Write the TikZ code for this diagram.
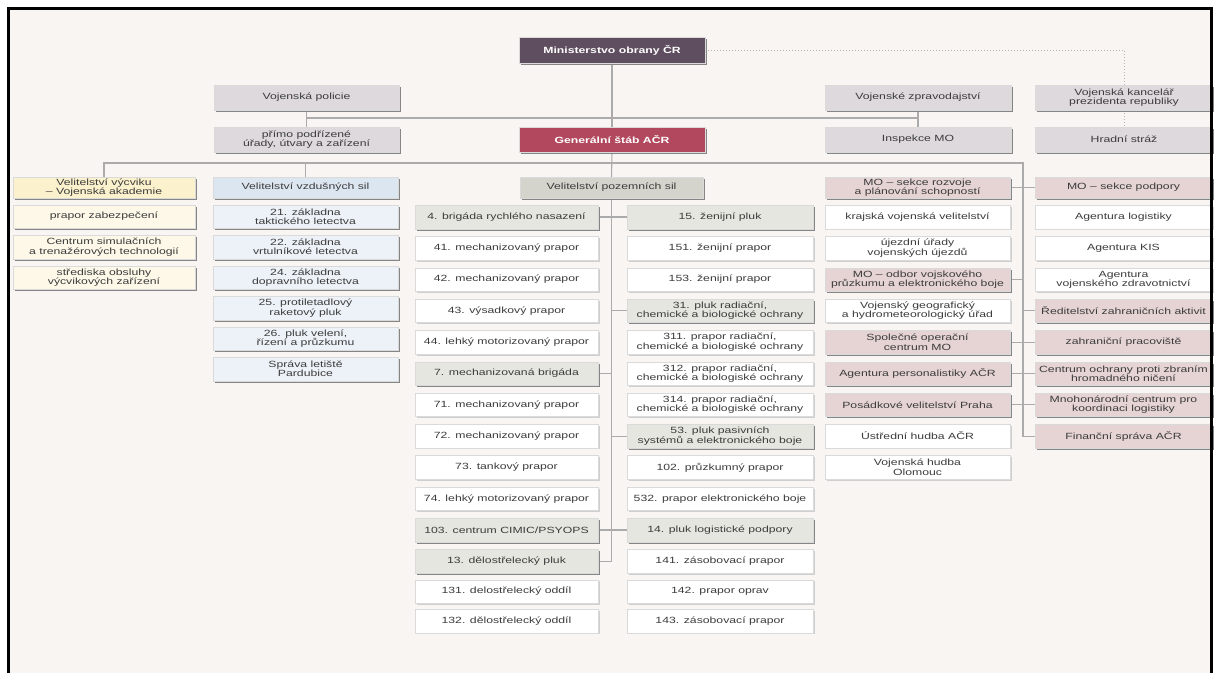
\documentclass[tikz,border=0pt]{standalone}
\usepackage{fontspec}
\setmainfont{Liberation Sans}[FakeStretch=1.36]
\usetikzlibrary{shadows}
\definecolor{bgc}{HTML}{F8F5F2}
\definecolor{txt}{HTML}{3C3C3C}
\definecolor{lnc}{HTML}{ABABAB}
\definecolor{dotc}{HTML}{B4B4B4}
\definecolor{edgec}{HTML}{DADADA}
\definecolor{shd}{HTML}{858585}
\definecolor{lshd}{HTML}{CFCFCF}
\definecolor{topc}{HTML}{DDD9DD}
\definecolor{minc}{HTML}{5F4E60}
\definecolor{gsc}{HTML}{B2485D}
\definecolor{yhc}{HTML}{FBF1CC}
\definecolor{ysc}{HTML}{FDF8E8}
\definecolor{bhc}{HTML}{DCE6F1}
\definecolor{bsc}{HTML}{EDF2F8}
\definecolor{vpc}{HTML}{D4D4CC}
\definecolor{gc}{HTML}{E6E6E0}
\definecolor{pc}{HTML}{E6D4D4}
\pgfdeclarelayer{bglayer}
\pgfdeclarelayer{linelayer}
\pgfsetlayers{bglayer,linelayer,main}
\begin{document}
\begin{tikzpicture}[x=1pt,y=-1pt,
 box/.style={draw=edgec, line width=0.4pt, inner sep=1pt, align=center, text=txt,
   font=\fontsize{9}{9.4}\selectfont, minimum height=23.5pt},
 dk/.style={drop shadow={shadow xshift=1.8pt, shadow yshift=-1.8pt, fill=shd, opacity=1}},
 lt/.style={drop shadow={shadow xshift=1.6pt, shadow yshift=-1.6pt, fill=lshd, opacity=1}},
 topbox/.style={box, dk, fill=topc, minimum height=25pt},
 hdr/.style={minimum height=21pt},
 wbox/.style={box, lt, fill=white},
 gbox/.style={box, dk, fill=gc},
 pbox/.style={box, dk, fill=pc},
 yhbox/.style={box, dk, fill=yhc, hdr},
 ysbox/.style={box, dk, fill=ysc},
 bhbox/.style={box, dk, fill=bhc, hdr},
 bsbox/.style={box, dk, fill=bsc},
 cy/.style={minimum width=182pt},
 cb/.style={minimum width=185pt},
 cl/.style={minimum width=183pt},
 cr/.style={minimum width=186pt},
 ca/.style={minimum width=185pt},
 cz/.style={minimum width=177pt},
 conn/.style={draw=lnc, line width=1.1pt},
 dotl/.style={draw=dotc, line width=1pt, dotted}
]
\useasboundingbox (0,0) rectangle (1219,673);
\begin{pgfonlayer}{bglayer}
\fill[white] (0,0) rectangle (1219,673);
\fill[bgc] (8.5,8) rectangle (1211.5,673);
\end{pgfonlayer}

% top level
\node[box, dk, fill=minc, text=white, font=\fontsize{9}{9.4}\selectfont\bfseries, minimum width=186pt, minimum height=26pt] (min) at (612,50) {Ministerstvo obrany ČR};
\node[topbox, cb] (vp) at (306.5,97.5) {Vojenská policie};
\node[topbox, cr] (vz) at (918,97.5) {Vojenské zpravodajství};
\node[topbox, cz] (vk) at (1124,97.5) {Vojenská kancelář\\prezidenta republiky};
\node[topbox, cb] (pp) at (306.5,139.5) {přímo podřízené\\úřady, útvary a zařízení};
\node[box, dk, fill=gsc, text=white, font=\fontsize{9}{9.4}\selectfont\bfseries, minimum width=186pt, minimum height=25pt] (gs) at (612,139.5) {Generální štáb AČR};
\node[topbox, cr] (ins) at (918,139.5) {Inspekce MO};
\node[topbox, cz] (hs) at (1124,139.5) {Hradní stráž};

% yellow column
\node[yhbox, cy] (yh) at (104,187.5) {Velitelství výcviku\\– Vojenská akademie};
\node[ysbox, cy] (y1) at (104,216.5) {prapor zabezpečení};
\node[ysbox, cy] (y2) at (104,247) {Centrum simulačních\\a trenažérových technologií};
\node[ysbox, cy] (y3) at (104,277.5) {střediska obsluhy\\výcvikových zařízení};

% blue column
\node[bhbox, cb] (bh) at (305.5,187.5) {Velitelství vzdušných sil};
\node[bsbox, cb] (b1) at (305.5,216.5) {21. základna\\taktického letectva};
\node[bsbox, cb] (b2) at (305.5,247) {22. základna\\vrtulníkové letectva};
\node[bsbox, cb] (b3) at (305.5,277.5) {24. základna\\dopravního letectva};
\node[bsbox, cb] (b4) at (305.5,308) {25. protiletadlový\\raketový pluk};
\node[bsbox, cb] (b5) at (305.5,338.5) {26. pluk velení,\\řízení a průzkumu};
\node[bsbox, cb] (b6) at (305.5,369) {Správa letiště\\Pardubice};

% land forces
\node[box, dk, fill=vpc, hdr, cl] (vps) at (611.5,187.5) {Velitelství pozemních sil};
\node[gbox, cl] (L0) at (506.5,217) {4. brigáda rychlého nasazení};
\node[wbox, cl] (L1) at (506.5,248.3) {41. mechanizovaný prapor};
\node[wbox, cl] (L2) at (506.5,279.6) {42. mechanizovaný prapor};
\node[wbox, cl] (L3) at (506.5,310.9) {43. výsadkový prapor};
\node[wbox, cl] (L4) at (506.5,342.2) {44. lehký motorizovaný prapor};
\node[gbox, cl] (L5) at (506.5,373.5) {7. mechanizovaná brigáda};
\node[wbox, cl] (L6) at (506.5,404.8) {71. mechanizovaný prapor};
\node[wbox, cl] (L7) at (506.5,436.1) {72. mechanizovaný prapor};
\node[wbox, cl] (L8) at (506.5,467.4) {73. tankový prapor};
\node[wbox, cl] (L9) at (506.5,498.7) {74. lehký motorizovaný prapor};
\node[gbox, cl] (L10) at (506.5,530) {103. centrum CIMIC/PSYOPS};
\node[gbox, cl] (L11) at (506.5,561.3) {13. dělostřelecký pluk};
\node[wbox, cl] (L12) at (506.5,591.5) {131. delostřelecký oddíl};
\node[wbox, cl] (L13) at (506.5,621) {132. dělostřelecký oddíl};

\node[gbox, cr] (R0) at (720,217) {15. ženijní pluk};
\node[wbox, cr] (R1) at (720,248.3) {151. ženijní prapor};
\node[wbox, cr] (R2) at (720,279.6) {153. ženijní prapor};
\node[gbox, cr] (R3) at (720,310.9) {31. pluk radiační,\\chemické a biologické ochrany};
\node[wbox, cr] (R4) at (720,342.2) {311. prapor radiační,\\chemické a biologiské ochrany};
\node[wbox, cr] (R5) at (720,373.5) {312. prapor radiační,\\chemické a biologiské ochrany};
\node[wbox, cr] (R6) at (720,404.8) {314. prapor radiační,\\chemické a biologiské ochrany};
\node[gbox, cr] (R7) at (720,436.1) {53. pluk pasivních\\systémů a elektronického boje};
\node[wbox, cr] (R8) at (720,467.4) {102. průzkumný prapor};
\node[wbox, cr] (R9) at (720,498.7) {532. prapor elektronického boje};
\node[gbox, cr] (R10) at (720,530) {14. pluk logistické podpory};
\node[wbox, cr] (R11) at (720,561.3) {141. zásobovací prapor};
\node[wbox, cr] (R12) at (720,591.5) {142. prapor oprav};
\node[wbox, cr] (R13) at (720,621) {143. zásobovací prapor};

% ministry sections
\node[pbox, ca, hdr] (ra0) at (917.5,187.5) {MO – sekce rozvoje\\a plánování schopností};
\node[wbox, ca] (ra1) at (917.5,217) {krajská vojenská velitelství};
\node[wbox, ca] (ra2) at (917.5,248.3) {újezdní úřady\\vojenských újezdů};
\node[pbox, ca] (ra3) at (917.5,279.6) {MO – odbor vojskového\\průzkumu a elektronického boje};
\node[wbox, ca] (ra4) at (917.5,310.9) {Vojenský geografický\\a hydrometeorologický úřad};
\node[pbox, ca] (ra5) at (917.5,342.2) {Společné operační\\centrum MO};
\node[pbox, ca] (ra6) at (917.5,373.5) {Agentura personalistiky AČR};
\node[pbox, ca] (ra7) at (917.5,404.8) {Posádkové velitelství Praha};
\node[wbox, ca] (ra8) at (917.5,436.1) {Ústřední hudba AČR};
\node[wbox, ca] (ra9) at (917.5,467.4) {Vojenská hudba\\Olomouc};

\node[pbox, cz, hdr] (rb0) at (1123.5,187.5) {MO – sekce podpory};
\node[wbox, cz] (rb1) at (1123.5,217) {Agentura logistiky};
\node[wbox, cz] (rb2) at (1123.5,248.3) {Agentura KIS};
\node[wbox, cz] (rb3) at (1123.5,279.6) {Agentura\\vojenského zdravotnictví};
\node[pbox, cz] (rb4) at (1123.5,310.9) {Ředitelství zahraničních aktivit};
\node[pbox, cz] (rb5) at (1123.5,342.2) {zahraniční pracoviště};
\node[pbox, cz] (rb6) at (1123.5,373.5) {Centrum ochrany proti zbraním\\hromadného ničení};
\node[pbox, cz] (rb7) at (1123.5,404.8) {Mnohonárodní centrum pro\\koordinaci logistiky};
\node[pbox, cz] (rb8) at (1123.5,436.1) {Finanční správa AČR};

% connectors
\begin{pgfonlayer}{linelayer}
\coordinate (h1) at (612,118);
\coordinate (h2) at (612,163);
\coordinate (rt) at (1023,163);
\draw[conn] (min.south) -- (gs.north);
\draw[conn] (gs.south) -- (vps.north);
\draw[conn] (vps.south) -- (vps.south |- L11.east) -- (L11.east);
\draw[conn] (vp.south) -- (pp.north);
\draw[conn] (vz.south) -- (ins.north);
\draw[conn] (vp.south |- h1) -- (vz.south |- h1);
\draw[conn] (yh.north) -- (yh.north |- h2) -- (rt) -- (rt |- rb8.west) -- (rb8.west);
\draw[conn] (bh.north) -- (bh.north |- h2);
\draw[conn] (L0.east) -- (R0.west);
\draw[conn] (L5.east) -- (vps.south |- L5.east);
\draw[conn] (R3.west) -- (vps.south |- R3.west);
\draw[conn] (R7.west) -- (vps.south |- R7.west);
\draw[conn] (L10.east) -- (R10.west);
\draw[conn] (ra0.east) -- (rb0.west);
\draw[conn] (ra3.east) -- (rt |- ra3.east);
\draw[conn] (rb4.west) -- (rt |- rb4.west);
\draw[conn] (ra5.east) -- (rb5.west);
\draw[conn] (ra6.east) -- (rb6.west);
\draw[conn] (ra7.east) -- (rb7.west);
\draw[dotl] (min.east) -- (vk.north |- min.east) -- (vk.north);
\draw[dotl] (vk.south) -- (hs.north);
\end{pgfonlayer}

% frame
\draw[line width=3pt] (8.5,673) -- (8.5,8) -- (1211.5,8) -- (1211.5,673);
\end{tikzpicture}
\end{document}
